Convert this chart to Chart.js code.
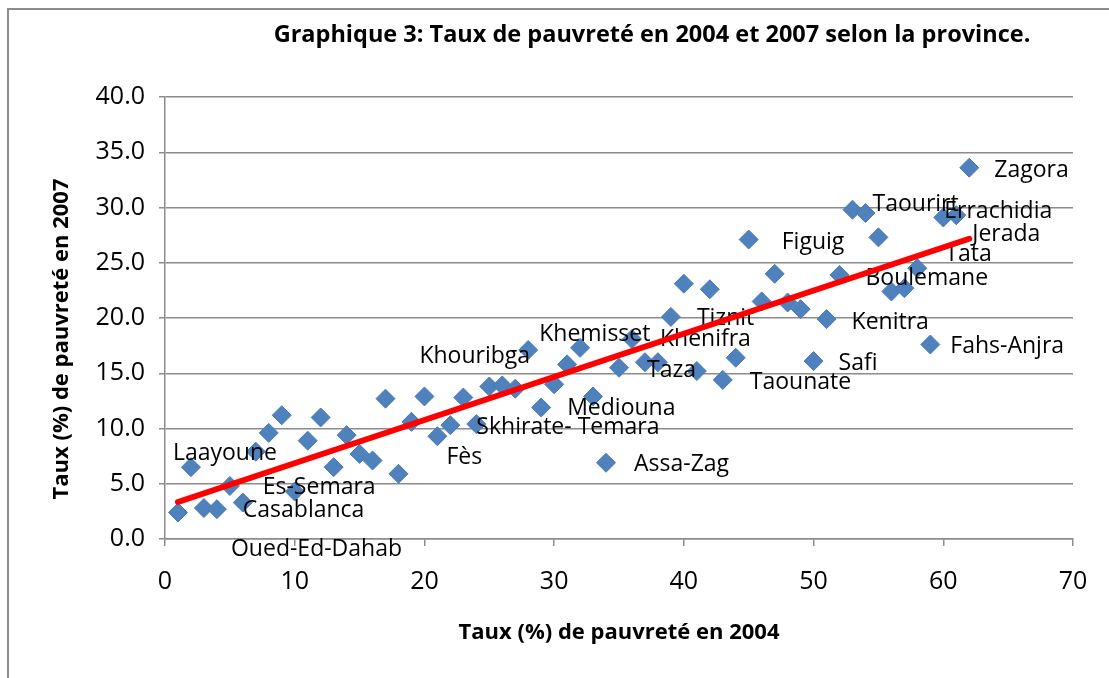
<!DOCTYPE html>
<html>
<head>
<meta charset="utf-8">
<script src="https://cdn.jsdelivr.net/npm/chart.js@4.4.0/dist/chart.umd.min.js"></script>
<style>
  html, body { margin: 0; padding: 0; background: #fff; overflow: hidden; }
  #wrap { position: relative; width: 1109px; height: 678px; }
  #frame { position: absolute; left: 7px; top: 8px; width: 1300px; height: 900px; border: 2px solid #8c8c8c; }
  canvas { position: absolute; left: 0; top: 0; }
</style>
</head>
<body>
<div id="wrap">
  <div id="frame"></div>
  <canvas id="chart" width="1109" height="678"></canvas>
</div>
<script>
// province rank on the 2004 axis (Excel numbered the provinces 1..62)
const rank2004 = [
  1, 2, 3, 4, 5, 6, 7, 8, 9, 10,
  11, 12, 13, 14, 15, 16, 17, 18, 19, 20,
  21, 22, 23, 24, 25, 26, 27, 28, 29, 30,
  31, 32, 33, 34, 35, 36, 37, 38, 39, 40,
  41, 42, 43, 44, 45, 46, 47, 48, 49, 50,
  51, 52, 53, 54, 55, 56, 57, 58, 59, 60,
  61, 62
];
// poverty rate 2007 (%)
const rate2007 = [
  2.4, 6.5, 2.8, 2.7, 4.8, 3.3, 7.9, 9.6, 11.2, 4.3,
  8.9, 11.0, 6.5, 9.4, 7.7, 7.1, 12.7, 5.9, 10.6, 12.9,
  9.3, 10.3, 12.8, 10.4, 13.8, 13.9, 13.6, 17.1, 11.9, 14.0,
  15.8, 17.3, 12.9, 6.9, 15.5, 18.1, 16.0, 16.0, 20.1, 23.1,
  15.2, 22.6, 14.4, 16.4, 27.1, 21.5, 24.0, 21.4, 20.8, 16.1,
  19.9, 23.9, 29.8, 29.5, 27.3, 22.4, 22.7, 24.5, 17.6, 29.1,
  29.3, 33.6
];
// named provinces and the point they belong to
const provinceNames = ['Zagora', 'Taourirt', 'Errachidia', 'Jerada', 'Tata', 'Boulemane', 'Kenitra',
  'Fahs-Anjra', 'Safi', 'Figuig', 'Tiznit', 'Khenifra', 'Taza', 'Taounate', 'Khemisset',
  'Khouribga', 'Mediouna', 'Skhirate- Temara', 'Fès', 'Assa-Zag', 'Laayoune', 'Es-Semara',
  'Casablanca', 'Oued-Ed-Dahab'];
const provinceRank = [62, 53, 60, 61, 58, 52, 51, 59, 50, 45, 39, 36, 35, 43, 28, 20, 29, 22, 21, 34, 2, 10, 6, 1];

const xTicks = [0, 10, 20, 30, 40, 50, 60, 70];
const yTicks = [0, 5, 10, 15, 20, 25, 30, 35, 40];

// label placement relative to its point (px: dx to text start, dy to baseline)
const labelOffsets = {
  'Zagora': [25, 9], 'Taourirt': [20, 1], 'Errachidia': [1, 1], 'Jerada': [16, 26],
  'Tata': [28, -7], 'Boulemane': [26, 10], 'Kenitra': [25, 10], 'Fahs-Anjra': [20, 8],
  'Safi': [25, 9], 'Figuig': [33, 9], 'Tiznit': [26, 8], 'Khenifra': [28, 7], 'Taza': [28, 9],
  'Taounate': [27, 9], 'Khemisset': [11, -9], 'Khouribga': [-5, -33], 'Mediouna': [26, 7],
  'Skhirate- Temara': [26, 9], 'Fès': [9, 28], 'Assa-Zag': [28, 8], 'Laayoune': [-18, -7],
  'Es-Semara': [-32, 3], 'Casablanca': [0, 14], 'Oued-Ed-Dahab': [53, 44]
};

const points = rank2004.map((x, i) => ({ x: x, y: rate2007[i] }));

// least squares trend, like the Excel linear trendline
function trend(xs, ys) {
  const n = xs.length;
  const mx = xs.reduce((a, b) => a + b, 0) / n;
  const my = ys.reduce((a, b) => a + b, 0) / n;
  let sxy = 0, sxx = 0;
  xs.forEach((x, i) => { sxy += (x - mx) * (ys[i] - my); sxx += (x - mx) * (x - mx); });
  const slope = sxy / sxx;
  const icpt = my - slope * mx;
  const x0 = Math.min(...xs), x1 = Math.max(...xs);
  return [{ x: x0, y: icpt + slope * x0 }, { x: x1, y: icpt + slope * x1 }];
}

const FONT = '"Open Sans", "DejaVu Sans", sans-serif';

const textPlugin = {
  id: 'texts',
  afterDatasetDraw(chart, args) {
    if (args.index !== 0) return;
    const ctx = chart.ctx;
    const meta = chart.getDatasetMeta(0);
    ctx.save();
    ctx.font = '23px ' + FONT;
    ctx.fillStyle = '#000';
    ctx.textBaseline = 'alphabetic';
    ctx.textAlign = 'left';
    provinceNames.forEach((name, i) => {
      const el = meta.data[provinceRank[i] - 1];
      const off = labelOffsets[name];
      ctx.fillText(name, el.x + off[0], el.y + off[1]);
    });
    ctx.restore();
  },
  afterDraw(chart) {
    const ctx = chart.ctx;
    ctx.save();
    ctx.fillStyle = '#000';
    ctx.font = 'bold 23.5px ' + FONT;
    ctx.textAlign = 'center';
    ctx.textBaseline = 'alphabetic';
    ctx.fillText('Graphique 3: Taux de pauvreté en 2004 et 2007 selon la province.', 652, 42);
    ctx.font = 'bold 22px ' + FONT;
    ctx.translate(62, 339);
    ctx.rotate(-Math.PI / 2);
    ctx.textBaseline = 'middle';
    ctx.fillText('Taux (%) de pauvreté en 2007', 0, 0);
    ctx.restore();
  }
};

new Chart(document.getElementById('chart'), {
  type: 'scatter',
  data: {
    datasets: [{
      label: 'Taux 2007',
      data: points,
      pointStyle: 'rectRot',
      pointRadius: 9.5,
      backgroundColor: '#4f81bd',
      borderColor: '#4a7ab6',
      borderWidth: 1,
      order: 1
    }, {
      label: 'Tendance',
      type: 'line',
      data: trend(rank2004, rate2007),
      borderColor: '#ff0000',
      borderWidth: 6,
      borderCapStyle: 'round',
      pointRadius: 0,
      fill: false,
      order: 0
    }]
  },
  options: {
    responsive: false,
    animation: false,
    layout: { padding: { top: 97, right: 36, left: 0, bottom: 0 } },
    plugins: {
      legend: { display: false },
      tooltip: { enabled: false },
      title: { display: false }
    },
    scales: {
      x: {
        type: 'linear',
        min: 0, max: 70,
        afterFit(scale) { scale.height = 139; },
        afterBuildTicks(scale) { scale.ticks = xTicks.map(v => ({ value: v })); },
        ticks: { color: '#000', font: { family: FONT, size: 25 }, padding: 21 },
        grid: { drawOnChartArea: false, drawTicks: true, tickLength: 7, color: '#8c8c8c', lineWidth: 1.5 },
        border: { display: true, color: '#8c8c8c', width: 1.5 },
        title: {
          display: true,
          text: 'Taux (%) de pauvreté en 2004',
          color: '#000',
          font: { family: FONT, size: 22, weight: 'bold' },
          padding: { top: 0, bottom: 32 }
        }
      },
      y: {
        min: 0, max: 40,
        afterFit(scale) { scale.width = 165; },
        afterBuildTicks(scale) { scale.ticks = yTicks.map(v => ({ value: v })); },
        ticks: {
          color: '#000',
          font: { family: FONT, size: 25 },
          padding: 14,
          callback: v => v.toFixed(1)
        },
        grid: { drawTicks: true, tickLength: 6, color: '#8c8c8c', lineWidth: 1.5 },
        border: { display: true, color: '#8c8c8c', width: 1.5 }
      }
    }
  },
  plugins: [textPlugin]
});
</script>
</body>
</html>
